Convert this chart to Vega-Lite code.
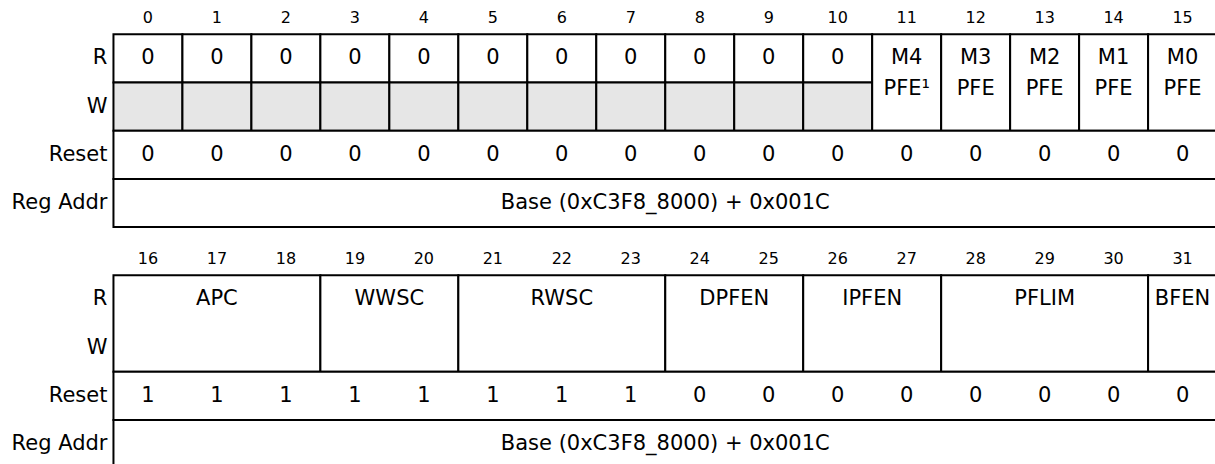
{
  "$schema": "https://vega.github.io/schema/vega-lite/v6.json",
  "background": "white",
  "padding": 0,
  "spacing": 0,
  "config": {"view": {"stroke": null}, "concat": {"spacing": 0}},
  "datasets": {
    "cells": [
      {"half": "lo", "start": 0, "end": 1, "row_from": 0, "row_to": 1, "kind": "normal", "label": "0"},
      {"half": "lo", "start": 1, "end": 2, "row_from": 0, "row_to": 1, "kind": "normal", "label": "0"},
      {"half": "lo", "start": 2, "end": 3, "row_from": 0, "row_to": 1, "kind": "normal", "label": "0"},
      {"half": "lo", "start": 3, "end": 4, "row_from": 0, "row_to": 1, "kind": "normal", "label": "0"},
      {"half": "lo", "start": 4, "end": 5, "row_from": 0, "row_to": 1, "kind": "normal", "label": "0"},
      {"half": "lo", "start": 5, "end": 6, "row_from": 0, "row_to": 1, "kind": "normal", "label": "0"},
      {"half": "lo", "start": 6, "end": 7, "row_from": 0, "row_to": 1, "kind": "normal", "label": "0"},
      {"half": "lo", "start": 7, "end": 8, "row_from": 0, "row_to": 1, "kind": "normal", "label": "0"},
      {"half": "lo", "start": 8, "end": 9, "row_from": 0, "row_to": 1, "kind": "normal", "label": "0"},
      {"half": "lo", "start": 9, "end": 10, "row_from": 0, "row_to": 1, "kind": "normal", "label": "0"},
      {"half": "lo", "start": 10, "end": 11, "row_from": 0, "row_to": 1, "kind": "normal", "label": "0"},
      {"half": "lo", "start": 0, "end": 1, "row_from": 1, "row_to": 2, "kind": "reserved"},
      {"half": "lo", "start": 1, "end": 2, "row_from": 1, "row_to": 2, "kind": "reserved"},
      {"half": "lo", "start": 2, "end": 3, "row_from": 1, "row_to": 2, "kind": "reserved"},
      {"half": "lo", "start": 3, "end": 4, "row_from": 1, "row_to": 2, "kind": "reserved"},
      {"half": "lo", "start": 4, "end": 5, "row_from": 1, "row_to": 2, "kind": "reserved"},
      {"half": "lo", "start": 5, "end": 6, "row_from": 1, "row_to": 2, "kind": "reserved"},
      {"half": "lo", "start": 6, "end": 7, "row_from": 1, "row_to": 2, "kind": "reserved"},
      {"half": "lo", "start": 7, "end": 8, "row_from": 1, "row_to": 2, "kind": "reserved"},
      {"half": "lo", "start": 8, "end": 9, "row_from": 1, "row_to": 2, "kind": "reserved"},
      {"half": "lo", "start": 9, "end": 10, "row_from": 1, "row_to": 2, "kind": "reserved"},
      {"half": "lo", "start": 10, "end": 11, "row_from": 1, "row_to": 2, "kind": "reserved"},
      {"half": "lo", "start": 11, "end": 12, "row_from": 0, "row_to": 2, "kind": "normal", "label": "M4", "label2": "PFE¹"},
      {"half": "lo", "start": 12, "end": 13, "row_from": 0, "row_to": 2, "kind": "normal", "label": "M3", "label2": "PFE"},
      {"half": "lo", "start": 13, "end": 14, "row_from": 0, "row_to": 2, "kind": "normal", "label": "M2", "label2": "PFE"},
      {"half": "lo", "start": 14, "end": 15, "row_from": 0, "row_to": 2, "kind": "normal", "label": "M1", "label2": "PFE"},
      {"half": "lo", "start": 15, "end": 16, "row_from": 0, "row_to": 2, "kind": "normal", "label": "M0", "label2": "PFE"},
      {"half": "lo", "start": 0, "end": 16, "row_from": 2, "row_to": 3, "kind": "normal"},
      {"half": "lo", "start": 0, "end": 16, "row_from": 3, "row_to": 4, "kind": "normal", "label": "Base (0xC3F8_8000) + 0x001C"},
      {"half": "hi", "start": 16, "end": 19, "row_from": 0, "row_to": 2, "kind": "normal", "label": "APC"},
      {"half": "hi", "start": 19, "end": 21, "row_from": 0, "row_to": 2, "kind": "normal", "label": "WWSC"},
      {"half": "hi", "start": 21, "end": 24, "row_from": 0, "row_to": 2, "kind": "normal", "label": "RWSC"},
      {"half": "hi", "start": 24, "end": 26, "row_from": 0, "row_to": 2, "kind": "normal", "label": "DPFEN"},
      {"half": "hi", "start": 26, "end": 28, "row_from": 0, "row_to": 2, "kind": "normal", "label": "IPFEN"},
      {"half": "hi", "start": 28, "end": 31, "row_from": 0, "row_to": 2, "kind": "normal", "label": "PFLIM"},
      {"half": "hi", "start": 31, "end": 32, "row_from": 0, "row_to": 2, "kind": "normal", "label": "BFEN"},
      {"half": "hi", "start": 16, "end": 32, "row_from": 2, "row_to": 3, "kind": "normal"},
      {"half": "hi", "start": 16, "end": 32, "row_from": 3, "row_to": 4, "kind": "normal", "label": "Base (0xC3F8_8000) + 0x001C"}
    ],
    "bits": [
      {"half": "lo", "bit": 0, "reset": 0}, {"half": "lo", "bit": 1, "reset": 0},
      {"half": "lo", "bit": 2, "reset": 0}, {"half": "lo", "bit": 3, "reset": 0},
      {"half": "lo", "bit": 4, "reset": 0}, {"half": "lo", "bit": 5, "reset": 0},
      {"half": "lo", "bit": 6, "reset": 0}, {"half": "lo", "bit": 7, "reset": 0},
      {"half": "lo", "bit": 8, "reset": 0}, {"half": "lo", "bit": 9, "reset": 0},
      {"half": "lo", "bit": 10, "reset": 0}, {"half": "lo", "bit": 11, "reset": 0},
      {"half": "lo", "bit": 12, "reset": 0}, {"half": "lo", "bit": 13, "reset": 0},
      {"half": "lo", "bit": 14, "reset": 0}, {"half": "lo", "bit": 15, "reset": 0},
      {"half": "hi", "bit": 16, "reset": 1}, {"half": "hi", "bit": 17, "reset": 1},
      {"half": "hi", "bit": 18, "reset": 1}, {"half": "hi", "bit": 19, "reset": 1},
      {"half": "hi", "bit": 20, "reset": 1}, {"half": "hi", "bit": 21, "reset": 1},
      {"half": "hi", "bit": 22, "reset": 1}, {"half": "hi", "bit": 23, "reset": 1},
      {"half": "hi", "bit": 24, "reset": 0}, {"half": "hi", "bit": 25, "reset": 0},
      {"half": "hi", "bit": 26, "reset": 0}, {"half": "hi", "bit": 27, "reset": 0},
      {"half": "hi", "bit": 28, "reset": 0}, {"half": "hi", "bit": 29, "reset": 0},
      {"half": "hi", "bit": 30, "reset": 0}, {"half": "hi", "bit": 31, "reset": 0}
    ],
    "rows": [
      {"name": "R", "row": 0},
      {"name": "W", "row": 1},
      {"name": "Reset", "row": 2},
      {"name": "Reg Addr", "row": 3}
    ]
  },
  "vconcat": [
    {
      "width": 1215,
      "height": 241,
      "layer": [
        {
          "data": {"name": "cells"},
          "transform": [{"filter": "datum.half == 'lo'"}],
          "mark": {"type": "rect", "stroke": "black", "strokeWidth": 2, "clip": true},
          "encoding": {
            "x": {"field": "start", "type": "quantitative", "scale": {"domain": [-1.645, 15.97], "nice": false, "zero": false}, "axis": null},
            "x2": {"field": "end"},
            "y": {"field": "row_from", "type": "quantitative", "scale": {"domain": [-0.712, 4.288], "nice": false, "zero": false, "reverse": true}, "axis": null},
            "y2": {"field": "row_to"},
            "fill": {"field": "kind", "type": "nominal", "scale": {"domain": ["reserved", "normal"], "range": ["#e6e6e6", "#ffffff"]}, "legend": null}
          }
        },
        {
          "data": {"name": "cells"},
          "transform": [
            {"filter": "datum.half == 'lo' && datum.label"},
            {"calculate": "(datum.start + datum.end) / 2", "as": "mid"},
            {"calculate": "datum.row_from + 0.5", "as": "ty"}
          ],
          "mark": {"type": "text", "font": "DejaVu Sans", "fontSize": 21, "baseline": "middle", "align": "center", "color": "black", "clip": true},
          "encoding": {
            "x": {"field": "mid", "type": "quantitative", "scale": {"domain": [-1.645, 15.97], "nice": false, "zero": false}, "axis": null},
            "y": {"field": "ty", "type": "quantitative", "scale": {"domain": [-0.712, 4.288], "nice": false, "zero": false, "reverse": true}, "axis": null},
            "text": {"field": "label"}
          }
        },
        {
          "data": {"name": "cells"},
          "transform": [
            {"filter": "datum.half == 'lo' && datum.label2"},
            {"calculate": "(datum.start + datum.end) / 2", "as": "mid"},
            {"calculate": "datum.row_from + 1.135", "as": "ty"}
          ],
          "mark": {"type": "text", "font": "DejaVu Sans", "fontSize": 21, "baseline": "middle", "align": "center", "color": "black", "clip": true},
          "encoding": {
            "x": {"field": "mid", "type": "quantitative", "scale": {"domain": [-1.645, 15.97], "nice": false, "zero": false}, "axis": null},
            "y": {"field": "ty", "type": "quantitative", "scale": {"domain": [-0.712, 4.288], "nice": false, "zero": false, "reverse": true}, "axis": null},
            "text": {"field": "label2"}
          }
        },
        {
          "data": {"name": "bits"},
          "transform": [
            {"filter": "datum.half == 'lo'"},
            {"calculate": "datum.bit + 0.5", "as": "center"}
          ],
          "mark": {"type": "text", "font": "DejaVu Sans", "fontSize": 16, "baseline": "middle", "align": "center", "color": "black"},
          "encoding": {
            "x": {"field": "center", "type": "quantitative", "scale": {"domain": [-1.645, 15.97], "nice": false, "zero": false}, "axis": null},
            "y": {"datum": -0.338, "type": "quantitative", "scale": {"domain": [-0.712, 4.288], "nice": false, "zero": false, "reverse": true}, "axis": null},
            "text": {"field": "bit"}
          }
        },
        {
          "data": {"name": "bits"},
          "transform": [
            {"filter": "datum.half == 'lo'"},
            {"calculate": "datum.bit + 0.5", "as": "center"}
          ],
          "mark": {"type": "text", "font": "DejaVu Sans", "fontSize": 21, "baseline": "middle", "align": "center", "color": "black"},
          "encoding": {
            "x": {"field": "center", "type": "quantitative", "scale": {"domain": [-1.645, 15.97], "nice": false, "zero": false}, "axis": null},
            "y": {"datum": 2.5, "type": "quantitative", "scale": {"domain": [-0.712, 4.288], "nice": false, "zero": false, "reverse": true}, "axis": null},
            "text": {"field": "reset"}
          }
        },
        {
          "data": {"name": "rows"},
          "transform": [{"calculate": "datum.row + 0.5", "as": "ty"}],
          "mark": {"type": "text", "font": "DejaVu Sans", "fontSize": 21, "baseline": "middle", "align": "right", "dx": -6, "color": "black"},
          "encoding": {
            "x": {"datum": 0, "type": "quantitative", "scale": {"domain": [-1.645, 15.97], "nice": false, "zero": false}, "axis": null},
            "y": {"field": "ty", "type": "quantitative", "scale": {"domain": [-0.712, 4.288], "nice": false, "zero": false, "reverse": true}, "axis": null},
            "text": {"field": "name"}
          }
        }
      ]
    },
    {
      "width": 1215,
      "height": 241,
      "layer": [
        {
          "data": {"name": "cells"},
          "transform": [{"filter": "datum.half == 'hi'"}],
          "mark": {"type": "rect", "stroke": "black", "strokeWidth": 2, "clip": true},
          "encoding": {
            "x": {"field": "start", "type": "quantitative", "scale": {"domain": [14.355, 31.97], "nice": false, "zero": false}, "axis": null},
            "x2": {"field": "end"},
            "y": {"field": "row_from", "type": "quantitative", "scale": {"domain": [-0.712, 4.288], "nice": false, "zero": false, "reverse": true}, "axis": null},
            "y2": {"field": "row_to"},
            "fill": {"field": "kind", "type": "nominal", "scale": {"domain": ["reserved", "normal"], "range": ["#e6e6e6", "#ffffff"]}, "legend": null}
          }
        },
        {
          "data": {"name": "cells"},
          "transform": [
            {"filter": "datum.half == 'hi' && datum.label"},
            {"calculate": "(datum.start + datum.end) / 2", "as": "mid"},
            {"calculate": "datum.row_from + 0.5", "as": "ty"}
          ],
          "mark": {"type": "text", "font": "DejaVu Sans", "fontSize": 21, "baseline": "middle", "align": "center", "color": "black", "clip": true},
          "encoding": {
            "x": {"field": "mid", "type": "quantitative", "scale": {"domain": [14.355, 31.97], "nice": false, "zero": false}, "axis": null},
            "y": {"field": "ty", "type": "quantitative", "scale": {"domain": [-0.712, 4.288], "nice": false, "zero": false, "reverse": true}, "axis": null},
            "text": {"field": "label"}
          }
        },
        {
          "data": {"name": "bits"},
          "transform": [
            {"filter": "datum.half == 'hi'"},
            {"calculate": "datum.bit + 0.5", "as": "center"}
          ],
          "mark": {"type": "text", "font": "DejaVu Sans", "fontSize": 16, "baseline": "middle", "align": "center", "color": "black"},
          "encoding": {
            "x": {"field": "center", "type": "quantitative", "scale": {"domain": [14.355, 31.97], "nice": false, "zero": false}, "axis": null},
            "y": {"datum": -0.338, "type": "quantitative", "scale": {"domain": [-0.712, 4.288], "nice": false, "zero": false, "reverse": true}, "axis": null},
            "text": {"field": "bit"}
          }
        },
        {
          "data": {"name": "bits"},
          "transform": [
            {"filter": "datum.half == 'hi'"},
            {"calculate": "datum.bit + 0.5", "as": "center"}
          ],
          "mark": {"type": "text", "font": "DejaVu Sans", "fontSize": 21, "baseline": "middle", "align": "center", "color": "black"},
          "encoding": {
            "x": {"field": "center", "type": "quantitative", "scale": {"domain": [14.355, 31.97], "nice": false, "zero": false}, "axis": null},
            "y": {"datum": 2.5, "type": "quantitative", "scale": {"domain": [-0.712, 4.288], "nice": false, "zero": false, "reverse": true}, "axis": null},
            "text": {"field": "reset"}
          }
        },
        {
          "data": {"name": "rows"},
          "transform": [{"calculate": "datum.row + 0.5", "as": "ty"}],
          "mark": {"type": "text", "font": "DejaVu Sans", "fontSize": 21, "baseline": "middle", "align": "right", "dx": -6, "color": "black"},
          "encoding": {
            "x": {"datum": 16, "type": "quantitative", "scale": {"domain": [14.355, 31.97], "nice": false, "zero": false}, "axis": null},
            "y": {"field": "ty", "type": "quantitative", "scale": {"domain": [-0.712, 4.288], "nice": false, "zero": false, "reverse": true}, "axis": null},
            "text": {"field": "name"}
          }
        }
      ]
    }
  ]
}
